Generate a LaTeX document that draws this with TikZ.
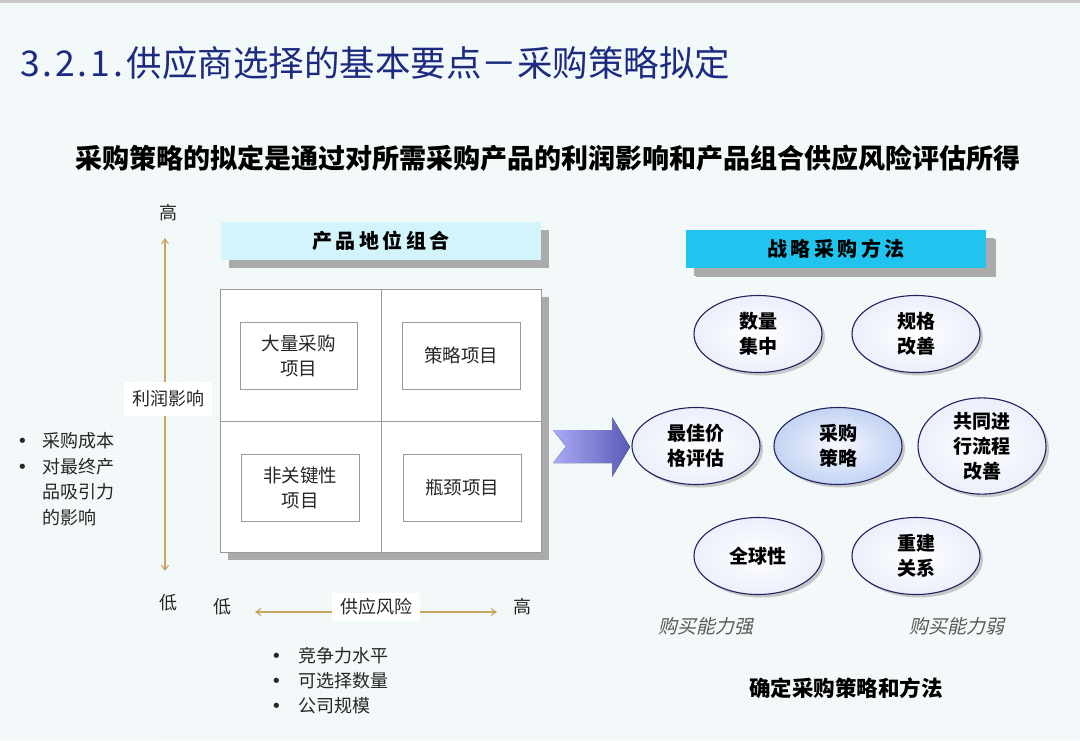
\documentclass[tikz,border=0pt]{standalone}
\usepackage{fontspec}
\setmainfont{Noto Sans CJK SC}
\newfontfamily\cjkit[FakeSlant=0.22]{Noto Sans CJK SC}
\newfontfamily\dejavu{DejaVu Sans}
\usetikzlibrary{shapes.geometric,arrows.meta,shadows,patterns}
\definecolor{bgcol}{HTML}{F4FAFA}
\definecolor{bgdot}{HTML}{DCEBEE}
\definecolor{titleblue}{HTML}{1C2A80}
\definecolor{hdrlight}{HTML}{D3F4FA}
\definecolor{hdrcyan}{HTML}{20C4EE}
\definecolor{shadowgrey}{HTML}{ABABAB}
\definecolor{axiscol}{HTML}{C9A463}
\definecolor{boxline}{HTML}{9A9A9A}
\definecolor{ellline}{HTML}{22225E}
\definecolor{ellout}{HTML}{EAEFFB}
\definecolor{coreout}{HTML}{C2D3F3}
\definecolor{arrowL}{HTML}{ABABF6}
\definecolor{arrowR}{HTML}{5A5AB8}
\newcommand\lsp{\hspace{3.5pt}}
\newcommand\blt{{\dejavu •}}
\begin{document}
\begin{tikzpicture}[x=1pt,y=-1pt,
  lbl/.style={font=\fontsize{18}{25}\selectfont, text=black!85, align=center, inner sep=0pt},
  hdr/.style={minimum width=320pt, minimum height=38pt, inner sep=0pt,
    font=\fontsize{20}{24}\selectfont\bfseries,
    drop shadow={shadow xshift=8pt, shadow yshift=-8pt, fill=shadowgrey, opacity=1}},
  quad/.style={draw=boxline, line width=0.9pt, fill=white, minimum height=67pt,
    font=\fontsize{18.5}{25}\selectfont, text=black!85, align=center, inner sep=0pt},
  ell/.style={ellipse, draw=ellline, line width=1.1pt, minimum width=128pt, minimum height=77pt,
    inner sep=0pt, shading=radial, inner color=white, outer color=ellout,
    font=\fontsize{19}{25}\selectfont\bfseries, align=center,
    drop shadow={shadow xshift=3pt, shadow yshift=-3pt, fill=black!22, opacity=1}},
  ax/.style={draw=axiscol, line width=1.1pt},
  tip/.style={-{Straight Barb[length=5pt,width=7pt]}},
  axlabel/.style={lbl, fill=white, minimum height=34pt, inner xsep=8pt},
  italbl/.style={font=\fontsize{19}{22}\selectfont\cjkit, text=black!65, inner sep=0pt}
]
\useasboundingbox (0,0) rectangle (1080,740);
\fill[bgcol] (0,0) rectangle (1080,740);
\fill[pattern=dots, pattern color=bgdot] (0,4) rectangle (1080,740);
\fill[black!22] (0,0) rectangle (1080,3);

% titles
\node[anchor=west, inner sep=0pt, text=titleblue, font=\fontsize{35.5}{38}\selectfont] (title) at (21,63)
  {\makebox[17.6pt]{3}\makebox[17.6pt]{.}\makebox[17.6pt]{2}\makebox[17.6pt]{.}\makebox[17.6pt]{1}\makebox[17.6pt]{.}供应商选择的基本要点－采购策略拟定};
\node[inner sep=0pt, font=\fontsize{27}{30}\selectfont\bfseries] (sub) at (548,158) {采购策略的拟定是通过对所需采购产品的利润影响和产品组合供应风险评估所得};

% left header
\node[hdr, fill=hdrlight] (hdrA) at (381,241) {产\lsp 品\lsp 地\lsp 位\lsp 组\lsp 合};

% matrix
\node[draw=boxline, line width=0.9pt, fill=white, minimum width=321pt, minimum height=263pt, inner sep=0pt,
  drop shadow={shadow xshift=7pt, shadow yshift=-7pt, fill=shadowgrey, opacity=1}] (mat) at (381,421) {};
\draw[boxline, line width=0.9pt] (mat.north) -- (mat.south);
\draw[boxline, line width=0.9pt] (mat.west) -- (mat.east);
\node[quad, minimum width=117pt] (q1) at (298.5,355.5) {大量采购\\项目};
\node[quad, minimum width=118pt] (q2) at (461,355.5) {策略项目};
\node[quad, minimum width=118pt] (q3) at (300,487.5) {非关键性\\项目};
\node[quad, minimum width=118pt] (q4) at (462,487.5) {瓶颈项目};

% vertical axis
\node[lbl] (vhigh) at (168,213) {高};
\node[lbl] (vlow) at (168,603) {低};
\coordinate (vtop) at (165,238);
\coordinate (vbot) at (165,571);
\node[axlabel] (vlab) at (168,399) {利润影响};
\draw[ax,tip] (vlab.north -| vtop) -- (vtop);
\draw[ax,tip] (vlab.south -| vbot) -- (vbot);

% horizontal axis
\node[lbl] (hlow) at (222,607) {低};
\node[lbl] (hhigh) at (522,607) {高};
\coordinate (hleft) at (255,612);
\coordinate (hright) at (497,612);
\node[axlabel, minimum height=28pt] (hlab) at (376,607) {供应风险};
\draw[ax,tip] (hlab.west |- hleft) -- (hleft);
\draw[ax,tip] (hlab.east |- hright) -- (hright);

% bullet lists
\node[lbl, anchor=west, align=left, font=\fontsize{18}{25.5}\selectfont] (lb) at (17,479)
  {\makebox[25pt][l]{\blt}采购成本\\\makebox[25pt][l]{\blt}对最终产\\\hspace*{25pt}品吸引力\\\hspace*{25pt}的影响};
\node[lbl, anchor=west, align=left] (bb) at (271,681)
  {\makebox[27pt][l]{\blt}竞争力水平\\\makebox[27pt][l]{\blt}可选择数量\\\makebox[27pt][l]{\blt}公司规模};

% block arrow
\fill[left color=arrowL, right color=arrowR]
  (553,430) -- (612,430) -- (612,417) -- (630,447) -- (612,477) -- (612,463) -- (553,463) -- (566,446.5) -- cycle;

% right header
\node[hdr, fill=hdrcyan, minimum width=300pt, drop shadow={shadow xshift=10pt, shadow yshift=-9pt, fill=shadowgrey, opacity=1}] (hdrB) at (836,249) {战\lsp 略\lsp 采\lsp 购\lsp 方\lsp 法};

% ellipses
\node[ell] (e1) at (758,334) {数量\\集中};
\node[ell] (e2) at (916,334) {规格\\改善};
\node[ell] (e3) at (696,446) {最佳价\\格评估};
\node[ell, outer color=coreout, inner color=blue!3] (e4) at (838,446) {采购\\策略};
\node[ell] (e5) at (982,446) {共同进\\行流程\\改善};
\node[ell] (e6) at (758,556) {全球性};
\node[ell] (e7) at (916,556) {重建\\关系};

\node[italbl] (strong) at (706,626) {购买能力强};
\node[italbl] (weak) at (957,626) {购买能力弱};
\node[inner sep=0pt, font=\fontsize{21.5}{24}\selectfont\bfseries] (concl) at (846,688) {确定采购策略和方法};
\end{tikzpicture}
\end{document}
